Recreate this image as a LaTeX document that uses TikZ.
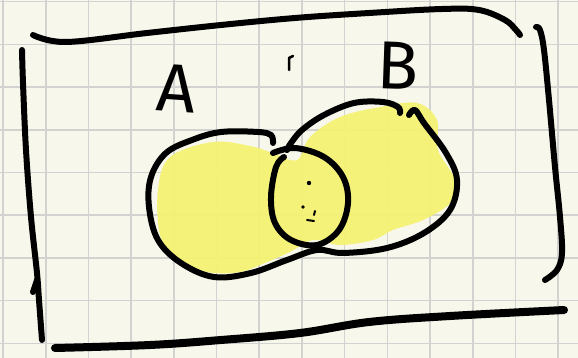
\documentclass[tikz,border=0pt]{standalone}
\usepackage{fontspec}
\setmainfont{Fira Sans}
\definecolor{paper}{HTML}{F8F7EC}
\definecolor{gridc}{HTML}{D2D2D0}
\definecolor{hilite}{HTML}{F5F274}
\tikzset{
  pen/.style={draw=black, line width=6pt, line cap=round, line join=round},
  thinpen/.style={draw=black, line width=2.5pt, line cap=round, line join=round},
  letter/.style={font=\fontsize{68}{68}\selectfont, inner sep=0pt}
}
\begin{document}
\begin{tikzpicture}[x=1pt,y=-1pt]
\useasboundingbox (0,0) rectangle (578,358);
\fill[paper] (0,0) rectangle (578,358);
% grid
\foreach \i in {0,...,13} {\draw[gridc, line width=1.6pt] ({3+42.7*\i},0) -- ({3+42.7*\i},358);}
\foreach \j in {0,...,8} {\draw[gridc, line width=1.6pt] (0,{1.7+42.7*\j}) -- (578,{1.7+42.7*\j});}
% highlight
\fill[hilite, opacity=0.95] plot[smooth cycle, tension=0.6] coordinates {
 (158,190) (170,157) (213,142) (250,146) (273,153) (297,160) (310,137) (340,117)
 (380,107) (417,103) (437,120) (438,150) (455,180) (450,203) (423,220) (393,230)
 (373,240) (340,245) (313,240) (290,252) (267,262) (240,272) (207,272) (175,260) (160,235)};
% frame
\draw[pen] plot[smooth, tension=0.6] coordinates {(33,35) (66,42) (147,33) (221,25) (295,18) (369,13) (442,9) (479,10) (505,20) (516,30) (520,35)};
\draw[pen] plot[smooth, tension=0.6] coordinates {(536,27) (540,30) (544,50) (549,100) (555,167) (560,217) (562,253) (557,270) (545,280)};
\draw[pen] plot[smooth, tension=0.6] coordinates {(22,50) (23,83) (26,150) (31,217) (37,273) (39,300) (42,340)};
\draw[pen] (37,280) -- (33,292);
\draw[pen, line width=8pt] plot[smooth, tension=0.6] coordinates {(55,348) (150,345) (221,340) (300,333) (369,322) (450,316) (564,310)};
% set A and outer B stroke
\draw[pen] plot[smooth, tension=0.6] coordinates {
 (273,143) (271,135) (258,132) (221,132) (192,140) (166,153) (151,177) (149,207)
 (158,240) (181,263) (214,277) (251,273) (287,260) (317,250) (343,253) (387,248)
 (424,233) (450,210) (457,180) (446,153) (424,123) (415,110) (409,115)};
% top of B
\draw[pen] plot[smooth, tension=0.6] coordinates {
 (400,113) (398,107) (383,102) (354,103) (324,115) (302,130) (291,143) (287,150)};
% intersection loop
\draw[pen] plot[smooth, tension=0.6] coordinates {
 (273,153) (295,148) (324,157) (343,177) (348,203) (339,230) (317,245) (291,240)
 (275,223) (271,197) (276,167) (284,157)};
% labels
\node[letter, rotate=-4] (labelA) at (177,88) {A};
\node[letter, rotate=-2] (labelB) at (398,66) {B};
% small marks
\draw[thinpen] (289,70) -- (289,58) -- (293,56);
\fill (309,183) circle (2.2);
\fill (303,207) circle (1.8);
\draw[thinpen, line width=2pt] (315,211) -- (314,215);
\draw[thinpen, line width=2pt] (307,220) -- (314,221);
\end{tikzpicture}
\end{document}
